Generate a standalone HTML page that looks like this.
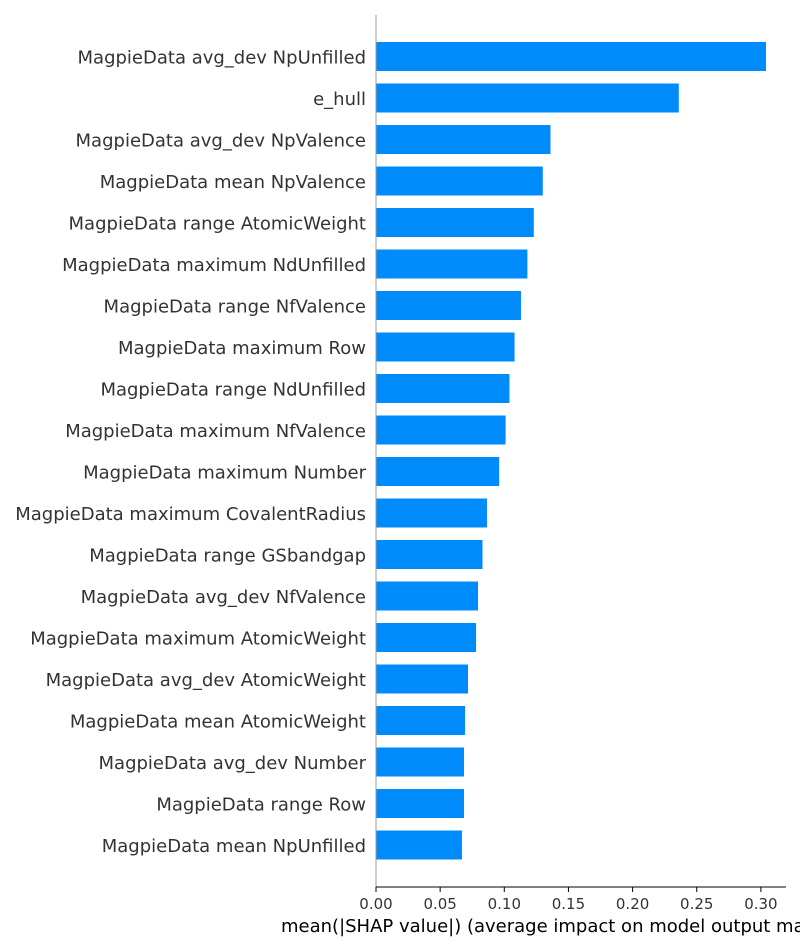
<!DOCTYPE html>
<html><head><meta charset="utf-8">
<style>
html,body{margin:0;padding:0;background:#fff;}
svg{display:block;font-family:"DejaVu Sans","Liberation Sans",sans-serif;}
</style></head>
<body>
<svg id="chart" width="800" height="950" viewBox="0 0 800 950" xmlns="http://www.w3.org/2000/svg"></svg>
<script>
const categories = ["MagpieData avg_dev NpUnfilled","e_hull","MagpieData avg_dev NpValence","MagpieData mean NpValence","MagpieData range AtomicWeight","MagpieData maximum NdUnfilled","MagpieData range NfValence","MagpieData maximum Row","MagpieData range NdUnfilled","MagpieData maximum NfValence","MagpieData maximum Number","MagpieData maximum CovalentRadius","MagpieData range GSbandgap","MagpieData avg_dev NfValence","MagpieData maximum AtomicWeight","MagpieData avg_dev AtomicWeight","MagpieData mean AtomicWeight","MagpieData avg_dev Number","MagpieData range Row","MagpieData mean NpUnfilled"];
const values = [0.304,0.236,0.136,0.130,0.123,0.118,0.113,0.108,0.104,0.101,0.096,0.0865,0.083,0.0795,0.078,0.0717,0.0694,0.0686,0.0686,0.067];
const tickValues = [0,0.05,0.10,0.15,0.20,0.25,0.30];
const tickLabels = ["0.00","0.05","0.10","0.15","0.20","0.25","0.30"];

const svg = document.getElementById('chart');
const NS = 'http://www.w3.org/2000/svg';
const x0 = 376, scale = 1283;
const xScale = v => x0 + v * scale;
const yTop = 56.5, pitch = 41.5, barH = 29;
const yScale = i => yTop + i * pitch;
function mk(tag, attrs){const e=document.createElementNS(NS,tag);for(const k in attrs)e.setAttribute(k,attrs[k]);svg.appendChild(e);return e;}

categories.forEach((c,i)=>{
  const cy = yScale(i);
  const r = mk('rect',{x:x0,y:cy-barH/2,width:xScale(values[i])-x0,height:barH,fill:'#008bfb'});
  
  
  const t = mk('text',{x:366,y:cy+7,'text-anchor':'end','font-size':'18',fill:'#333'});
  t.textContent = c;
  
  
});

const yAxis = mk('line',{x1:x0,y1:15,x2:x0,y2:887,stroke:'#999','stroke-width':1});


const xAxis = mk('line',{x1:x0,y1:887,x2:786,y2:887,stroke:'#000','stroke-width':1});



tickValues.forEach((v,i)=>{
  const x = xScale(v);
  const tk = mk('line',{x1:x,y1:887,x2:x,y2:892,stroke:'#000','stroke-width':1});
  
  
  const tl = mk('text',{x:x,y:909,'text-anchor':'middle','font-size':'15',fill:'#333'});
  tl.textContent = tickLabels[i];
  
  
});

const xt = mk('text',{x:281,y:932,'font-size':'18',fill:'#000'});
xt.textContent = 'mean(|SHAP value|) (average impact on model output magnitude)';


</script>
</body></html>
